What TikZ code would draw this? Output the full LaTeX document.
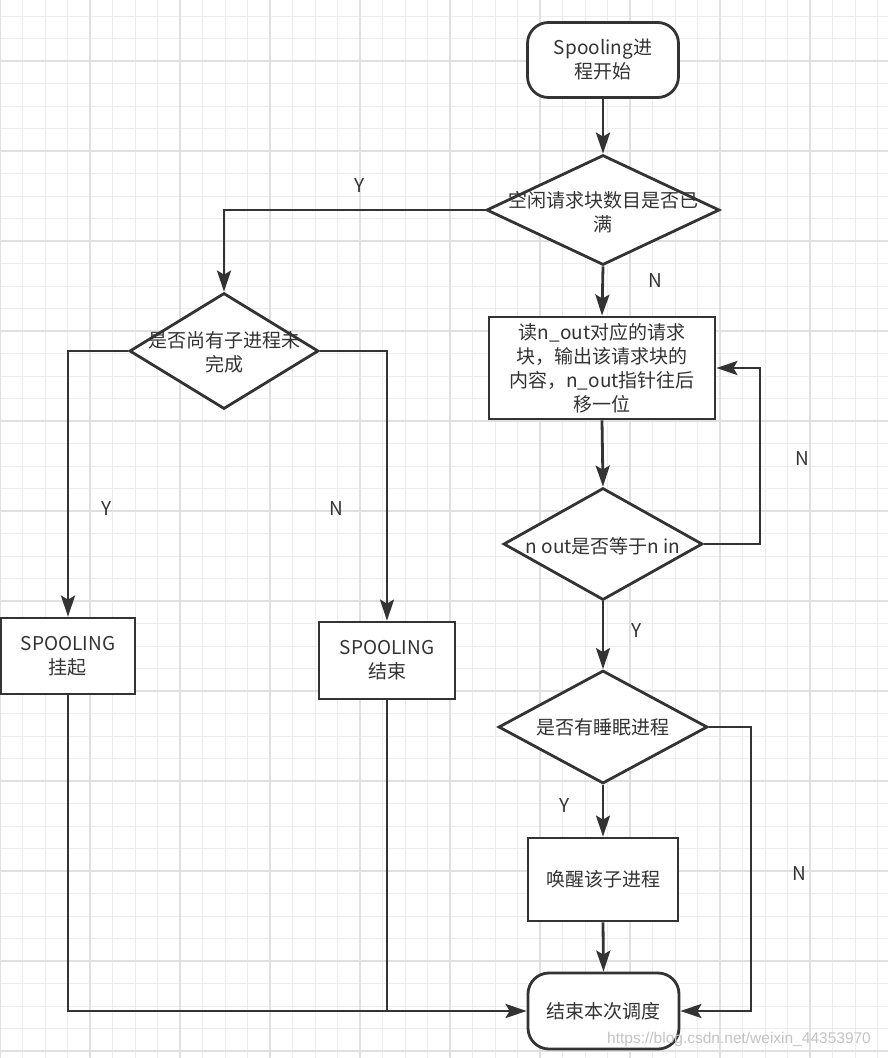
\documentclass[tikz,border=0pt]{standalone}
\usepackage{fontspec}
\setmainfont{Noto Sans CJK SC}
\newfontfamily\wmfont{Liberation Sans}
\usetikzlibrary{arrows.meta,shapes.geometric}
\definecolor{ink}{HTML}{333333}
\definecolor{gridthin}{HTML}{EDEDED}
\definecolor{gridthick}{HTML}{E0E0E0}
\definecolor{wmgray}{HTML}{C4C4C4}
\begin{document}
\begin{tikzpicture}[x=1pt,y=-1pt,
  flow/.style={draw=ink, line width=2.8pt, -{Stealth[length=21pt,width=14pt,inset=4pt]}},
  plain/.style={draw=ink, line width=2.8pt},
  txt/.style={text=ink, align=center, font=\fontsize{19}{24}\selectfont},
  box/.style={rectangle, draw=ink, line width=2.8pt, fill=white, inner sep=0pt, txt},
  term/.style={box, rounded corners=21pt},
  dia/.style={diamond, draw=ink, line width=2.8pt, fill=white, inner sep=0pt},
  lbl/.style={text=ink, font=\fontsize{19}{24}\selectfont, inner sep=0pt}]
% background and grid
\fill[white] (0,0) rectangle (888,1058);
\useasboundingbox (0,0) rectangle (888,1058);
\foreach \k in {0,...,39} \draw[gridthin, line width=1pt] (\k*22.5,0) -- (\k*22.5,1058);
\foreach \k in {0,...,46} \draw[gridthin, line width=1pt] (0,16+\k*22.5) -- (888,16+\k*22.5);
\foreach \k in {0,...,9} \draw[gridthick, line width=1.3pt] (\k*90,0) -- (\k*90,1058);
\foreach \k in {0,...,11} \draw[gridthick, line width=1.3pt] (0,61+\k*90) -- (888,61+\k*90);
% nodes
\node[term, minimum width=151pt, minimum height=75pt] (start) at (603,60) {Spooling进\\程开始};
\node[dia, minimum width=233pt, minimum height=110pt] (d1) at (603,210) {};
\node[txt, inner sep=0pt] (d1t) at (603,212) {空闲请求块数目是否已\\满};
\node[box, minimum width=226pt, minimum height=102pt] (b1) at (602,368) {读n\_out对应的请求\\块，输出该请求块的\\内容，n\_out指针往后\\移一位};
\node[dia, minimum width=199pt, minimum height=112pt] (d3) at (603,544) {};
\node[txt, inner sep=0pt] (d3t) at (603,546) {n out是否等于n in};
\node[dia, minimum width=209pt, minimum height=113pt] (d4) at (603,727) {};
\node[txt, inner sep=0pt] (d4t) at (603,727) {是否有睡眠进程};
\node[box, minimum width=150pt, minimum height=83pt] (wake) at (603,879.5) {唤醒该子进程};
\node[term, minimum width=151pt, minimum height=76pt] (end) at (603.5,1011) {结束本次调度};
\node[dia, minimum width=189pt, minimum height=116pt] (d2) at (224,351) {};
\node[txt, inner sep=0pt] (d2t) at (224,352) {是否尚有子进程未\\完成};
\node[box, minimum width=134pt, minimum height=76pt] (sp1) at (68,656) {SPOOLING\\挂起};
\node[box, minimum width=136pt, minimum height=77pt] (sp2) at (387,660.5) {SPOOLING\\结束};
% coordinates for loops
\coordinate (c1) at (760,544);
\coordinate (c2) at (751,727);
% connectors
\draw[flow] (start.south) -- (d1.north);
\draw[flow] (d1.west) -| (d2.north);
\draw[flow] (d1.south) -- (b1.north);
\draw[flow] (b1.south) -- (d3.north);
\draw[flow] (d3.east) -- (c1) |- (b1.east);
\draw[flow] (d3.south) -- (d4.north);
\draw[flow] (d4.south) -- (wake.north);
\draw[flow] (wake.south) -- (end.north);
\draw[flow] (d4.east) -- (c2) |- (end.east);
\draw[flow] (d2.west) -| (sp1.north);
\draw[flow] (d2.east) -| (sp2.north);
\draw[flow] (sp1.south) |- (end.west);
\draw[plain] (sp2.south) -- (sp2.south |- end.west);
% labels
\node[lbl] (lY1) at (360,186) {Y};
\node[lbl] (lN1) at (655,281) {N};
\node[lbl] (lN2) at (802,459) {N};
\node[lbl] (lY2) at (637,631) {Y};
\node[lbl] (lY3) at (565,806) {Y};
\node[lbl] (lN3) at (799,874) {N};
\node[lbl] (lY4) at (107,509) {Y};
\node[lbl] (lN4) at (336,509) {N};
% watermark
\node[anchor=base west, text=wmgray, font=\wmfont\fontsize{15.5}{18}\selectfont, inner sep=0pt] (wm) at (607,1043) {https://blog.csdn.net/weixin\_44353970};
\end{tikzpicture}
\end{document}
